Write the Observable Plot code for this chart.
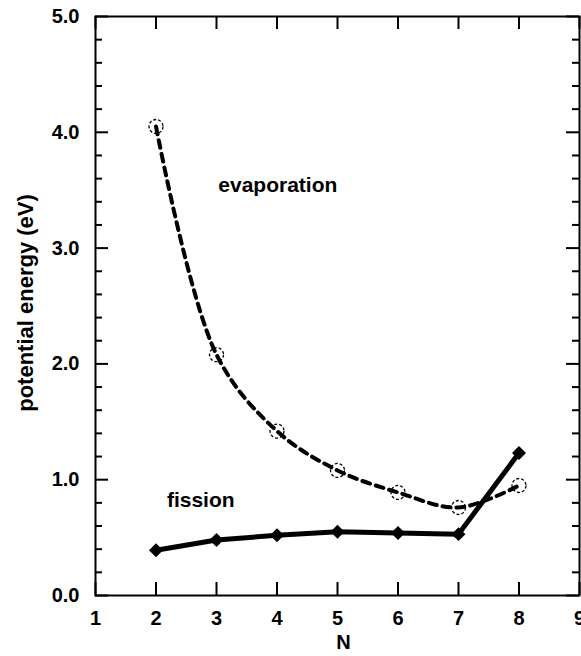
<!DOCTYPE html>
<html><head><meta charset="utf-8">
<script src="https://cdn.jsdelivr.net/npm/d3@7"></script>
<script src="https://cdn.jsdelivr.net/npm/@observablehq/plot@0.6"></script>
<style>
body{margin:0;background:#fff;}
#chart svg{display:block;}
</style>
</head><body><div id="chart"></div>
<script>
const N = [2, 3, 4, 5, 6, 7, 8];
const evaporation = [4.05, 2.08, 1.42, 1.08, 0.89, 0.76, 0.95];
const fission = [0.39, 0.48, 0.52, 0.55, 0.54, 0.53, 1.23];
const xTicks = [1, 2, 3, 4, 5, 6, 7, 8, 9];
const yMajor = [0, 1, 2, 3, 4, 5];
const yMinor = [0.2, 0.4, 0.6, 0.8, 1.2, 1.4, 1.6, 1.8, 2.2, 2.4, 2.6, 2.8, 3.2, 3.4, 3.6, 3.8, 4.2, 4.4, 4.6, 4.8];
const yTickLabels = ["0.0", "1.0", "2.0", "3.0", "4.0", "5.0"];
const annLabels = ["evaporation", "fission"];
const annN = [3.03, 2.18];
const annE = [3.54, 0.82];

const evapData = N.map((n, i) => ({N: n, E: evaporation[i]}));
const fisData = N.map((n, i) => ({N: n, E: fission[i]}));
const annData = annLabels.map((t, i) => ({t, N: annN[i], E: annE[i]}));

const font = "'Liberation Sans', Arial, Helvetica, sans-serif";
const W = 581, H = 656, mL = 95, mR = 2, mT = 16, mB = 61;
const innerW = W - mL - mR, innerH = H - mT - mB;
const major = 13, minor = 7;

const chart = Plot.plot({
  width: W,
  height: H,
  marginLeft: mL,
  marginRight: mR,
  marginTop: mT,
  marginBottom: mB,
  style: {fontFamily: font, fontWeight: "bold", fontSize: "19px", color: "#000", background: "#fff"},
  x: {domain: [1, 9]},
  y: {domain: [0, 5]},
  marks: [
    // inward ticks
    Plot.tickX(xTicks, {x: d => d, insetTop: innerH - major, strokeWidth: 2}),
    Plot.tickX(xTicks, {x: d => d, insetBottom: innerH - major, strokeWidth: 2}),
    Plot.tickY(yMajor, {y: d => d, insetRight: innerW - major, strokeWidth: 2}),
    Plot.tickY(yMinor, {y: d => d, insetRight: innerW - minor, strokeWidth: 2}),
    Plot.tickY(yMajor, {y: d => d, insetLeft: innerW - major, strokeWidth: 2}),
    Plot.tickY(yMinor, {y: d => d, insetLeft: innerW - minor, strokeWidth: 2}),
    // tick labels
    Plot.axisX(xTicks, {anchor: "bottom", tickSize: 0, tickPadding: 15, tickFormat: d => String(d), label: null, fontSize: 20, fontWeight: "bold"}),
    Plot.axisY(yMajor, {anchor: "left", tickSize: 0, tickPadding: 16, tickFormat: (d, i) => yTickLabels[i], label: null, fontSize: 20, fontWeight: "bold"}),
    Plot.frame({strokeWidth: 2}),
    // axis titles
    Plot.text(["N"], {frameAnchor: "bottom", textAnchor: "middle", dx: 6, dy: 53, fontSize: 20, fontWeight: "bold"}),
    Plot.text(["potential energy (eV)"], {frameAnchor: "left", textAnchor: "middle", dx: -70, dy: -3, rotate: -90, fontSize: 22, fontWeight: "bold"}),
    // evaporation
    Plot.line(evapData, {x: "N", y: "E", curve: "catmull-rom", stroke: "#000", strokeWidth: 4, strokeDasharray: "8,6"}),
    Plot.dot(evapData, {x: "N", y: "E", r: 7, stroke: "#000", strokeWidth: 1.3, strokeDasharray: "3,2", fill: "none"}),
    // fission
    Plot.line(fisData, {x: "N", y: "E", stroke: "#000", strokeWidth: 5}),
    Plot.dot(fisData, {x: "N", y: "E", symbol: "diamond2", r: 6.3, fill: "#000"}),
    // annotations
    Plot.text(annData, {x: "N", y: "E", text: "t", textAnchor: "start", fontSize: 21, fontWeight: "bold"})
  ]
});
document.getElementById("chart").appendChild(chart);
</script>
</body></html>
